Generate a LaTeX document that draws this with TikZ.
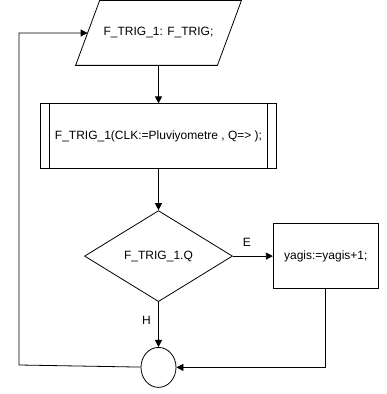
\documentclass[tikz,border=0pt]{standalone}
\usepackage{fontspec}
\setmainfont{Liberation Sans}
\usetikzlibrary{arrows.meta,positioning,shapes.geometric}

\begin{document}
\begin{tikzpicture}[x=1pt,y=1pt,>={Triangle[length=7pt,width=7pt]},line width=0.8pt,
 font=\fontsize{12}{14}\selectfont,
 io/.style={rectangle,minimum width=141pt,minimum height=64pt,inner sep=0pt},
 proc/.style={rectangle,draw,minimum width=236pt,minimum height=65pt,inner sep=0pt,
  path picture={\draw ([xshift=9pt]path picture bounding box.north west)--([xshift=9pt]path picture bounding box.south west);
   \draw ([xshift=-9pt]path picture bounding box.north east)--([xshift=-9pt]path picture bounding box.south east);}},
 dec/.style={diamond,draw,minimum width=148pt,minimum height=91pt,inner sep=0pt},
 act/.style={rectangle,draw,minimum width=105pt,minimum height=65pt,inner sep=0pt},
 merger/.style={ellipse,draw,minimum width=35pt,minimum height=40pt,inner sep=0pt}]
\useasboundingbox (0,0) rectangle (387,394);
\node[io] (decl) at (158.5,361) {F\_TRIG\_1: F\_TRIG;};
\draw ([xshift=-12pt]decl.south west)--([xshift=-12pt]decl.south east)--([xshift=12pt]decl.north east)--([xshift=12pt]decl.north west)--cycle;
\node[proc,below=38pt of decl] (call) {F\_TRIG\_1(CLK:=Pluviyometre , Q=> );};
\node[dec,below=41pt of call] (test) {F\_TRIG\_1.Q};
\node[act,right=40pt of test] (inc) {yagis:=yagis+1;};
\node[merger,below=45pt of test] (merge) {};
\coordinate (back) at (19,29);
\draw[->] (decl)--(call);
\draw[->] (call)--(test);
\draw[->] (test)--node[above=6pt,pos=0.35]{E} (inc);
\draw[->] (test)--node[left=4pt,pos=0.4]{H} (merge);
\draw[->] (inc) |- (merge);
\draw[->] (merge)--(back) |- (decl);
\end{tikzpicture}
\end{document}
